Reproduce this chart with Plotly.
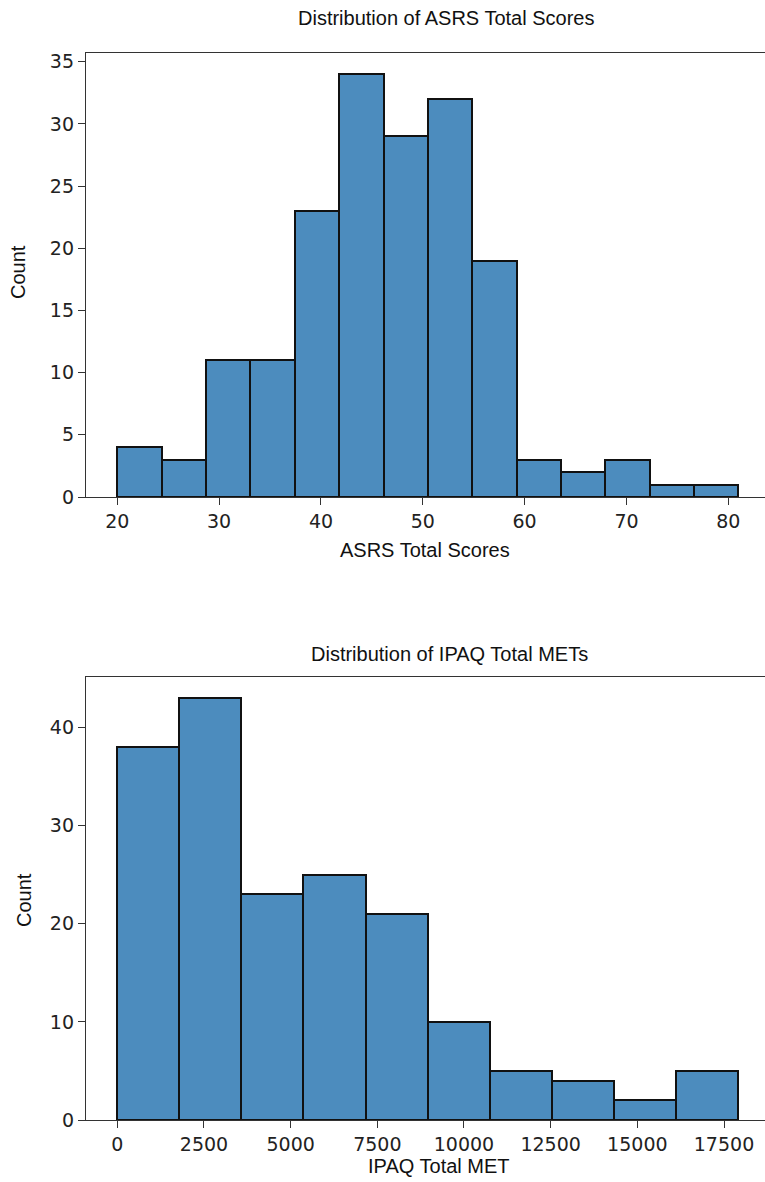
import numpy as np
import plotly.graph_objects as go

# ASRS histogram data
asrs_edge_min = 20.0
asrs_edge_max = 81.0
asrs_counts = [4, 3, 11, 11, 23, 34, 29, 32, 19, 3, 2, 3, 1, 1]
asrs_ticks = [20, 30, 40, 50, 60, 70, 80]
asrs_yticks = [0, 5, 10, 15, 20, 25, 30, 35]

# IPAQ histogram data
ipaq_edge_min = 0.0
ipaq_edge_max = 17900.0
ipaq_counts = [38, 43, 23, 25, 21, 10, 5, 4, 2, 5]
ipaq_ticks = [0, 2500, 5000, 7500, 10000, 12500, 15000, 17500]
ipaq_ticklabels = ["0", "2500", "5000", "7500", "10000", "12500", "15000", "17500"]
ipaq_yticks = [0, 10, 20, 30, 40]

W, H = 765, 1182
BAR = "#4c8cbe"
TICKFONT = dict(family="DejaVu Sans", size=19, color="#222")
LABFONT = dict(family="Liberation Sans, Arial", size=20, color="#111")


def bins(lo, hi, counts):
    edges = np.linspace(lo, hi, len(counts) + 1)
    centers = (edges[:-1] + edges[1:]) / 2
    widths = np.diff(edges)
    return centers, widths


ac, aw = bins(asrs_edge_min, asrs_edge_max, asrs_counts)
ic, iw = bins(ipaq_edge_min, ipaq_edge_max, ipaq_counts)

fig = go.Figure()
fig.add_trace(go.Bar(x=ac, y=asrs_counts, width=aw, marker=dict(color=BAR, line=dict(color="#111", width=2)),
                     xaxis="x", yaxis="y", showlegend=False))
fig.add_trace(go.Bar(x=ic, y=ipaq_counts, width=iw, marker=dict(color=BAR, line=dict(color="#111", width=2)),
                     xaxis="x2", yaxis="y2", showlegend=False))


def py(px):
    return 1 - px / H


left_px = 86
xdom = [left_px / W, 1.0]

# top axis scale
a_ppu = (728.3 - 117.3) / 60.0
a_lo = 20 - (117.3 - left_px) / a_ppu
a_hi = a_lo + (W - left_px) / a_ppu
# bottom axis scale
i_ppu = (724.0 - 117.3) / 17500.0
i_lo = 0 - (117.3 - left_px) / i_ppu
i_hi = i_lo + (W - left_px) / i_ppu

axcommon = dict(showline=True, linecolor="#333", linewidth=1.4, ticks="outside", ticklen=7, tickwidth=1.3,
                tickcolor="#333", showgrid=False, zeroline=False, tickfont=TICKFONT, automargin=False)

fig.update_layout(
    width=W, height=H, margin=dict(l=0, r=0, t=0, b=0),
    plot_bgcolor="white", paper_bgcolor="white", bargap=0,
    xaxis=dict(domain=xdom, range=[a_lo, a_hi], tickvals=asrs_ticks, anchor="y", mirror=True, **axcommon),
    yaxis=dict(domain=[py(497), py(53)], range=[0, 35.7], tickvals=asrs_yticks, anchor="x", **axcommon),
    xaxis2=dict(domain=xdom, range=[i_lo, i_hi], tickvals=ipaq_ticks, ticktext=ipaq_ticklabels, anchor="y2",
                mirror=True, **axcommon),
    yaxis2=dict(domain=[py(1120), py(677)], range=[0, 45.15], tickvals=ipaq_yticks, anchor="x2", **axcommon),
)

ann = [
    dict(text="Distribution of ASRS Total Scores", x=446 / W, y=py(18), font=LABFONT),
    dict(text="ASRS Total Scores", x=425 / W, y=py(550), font=LABFONT),
    dict(text="Count", x=18 / W, y=py(272), font=LABFONT, textangle=-90),
    dict(text="Distribution of IPAQ Total METs", x=449 / W, y=py(654), font=LABFONT),
    dict(text="IPAQ Total MET", x=439 / W, y=py(1166), font=LABFONT),
    dict(text="Count", x=24 / W, y=py(900), font=LABFONT, textangle=-90),
]
for a in ann:
    fig.add_annotation(xref="paper", yref="paper", showarrow=False, xanchor="center", yanchor="middle", **a)

fig.write_html("out.html", config={"displayModeBar": False},
               post_script="document.body.style.margin='0px';document.body.style.overflow='hidden';")
